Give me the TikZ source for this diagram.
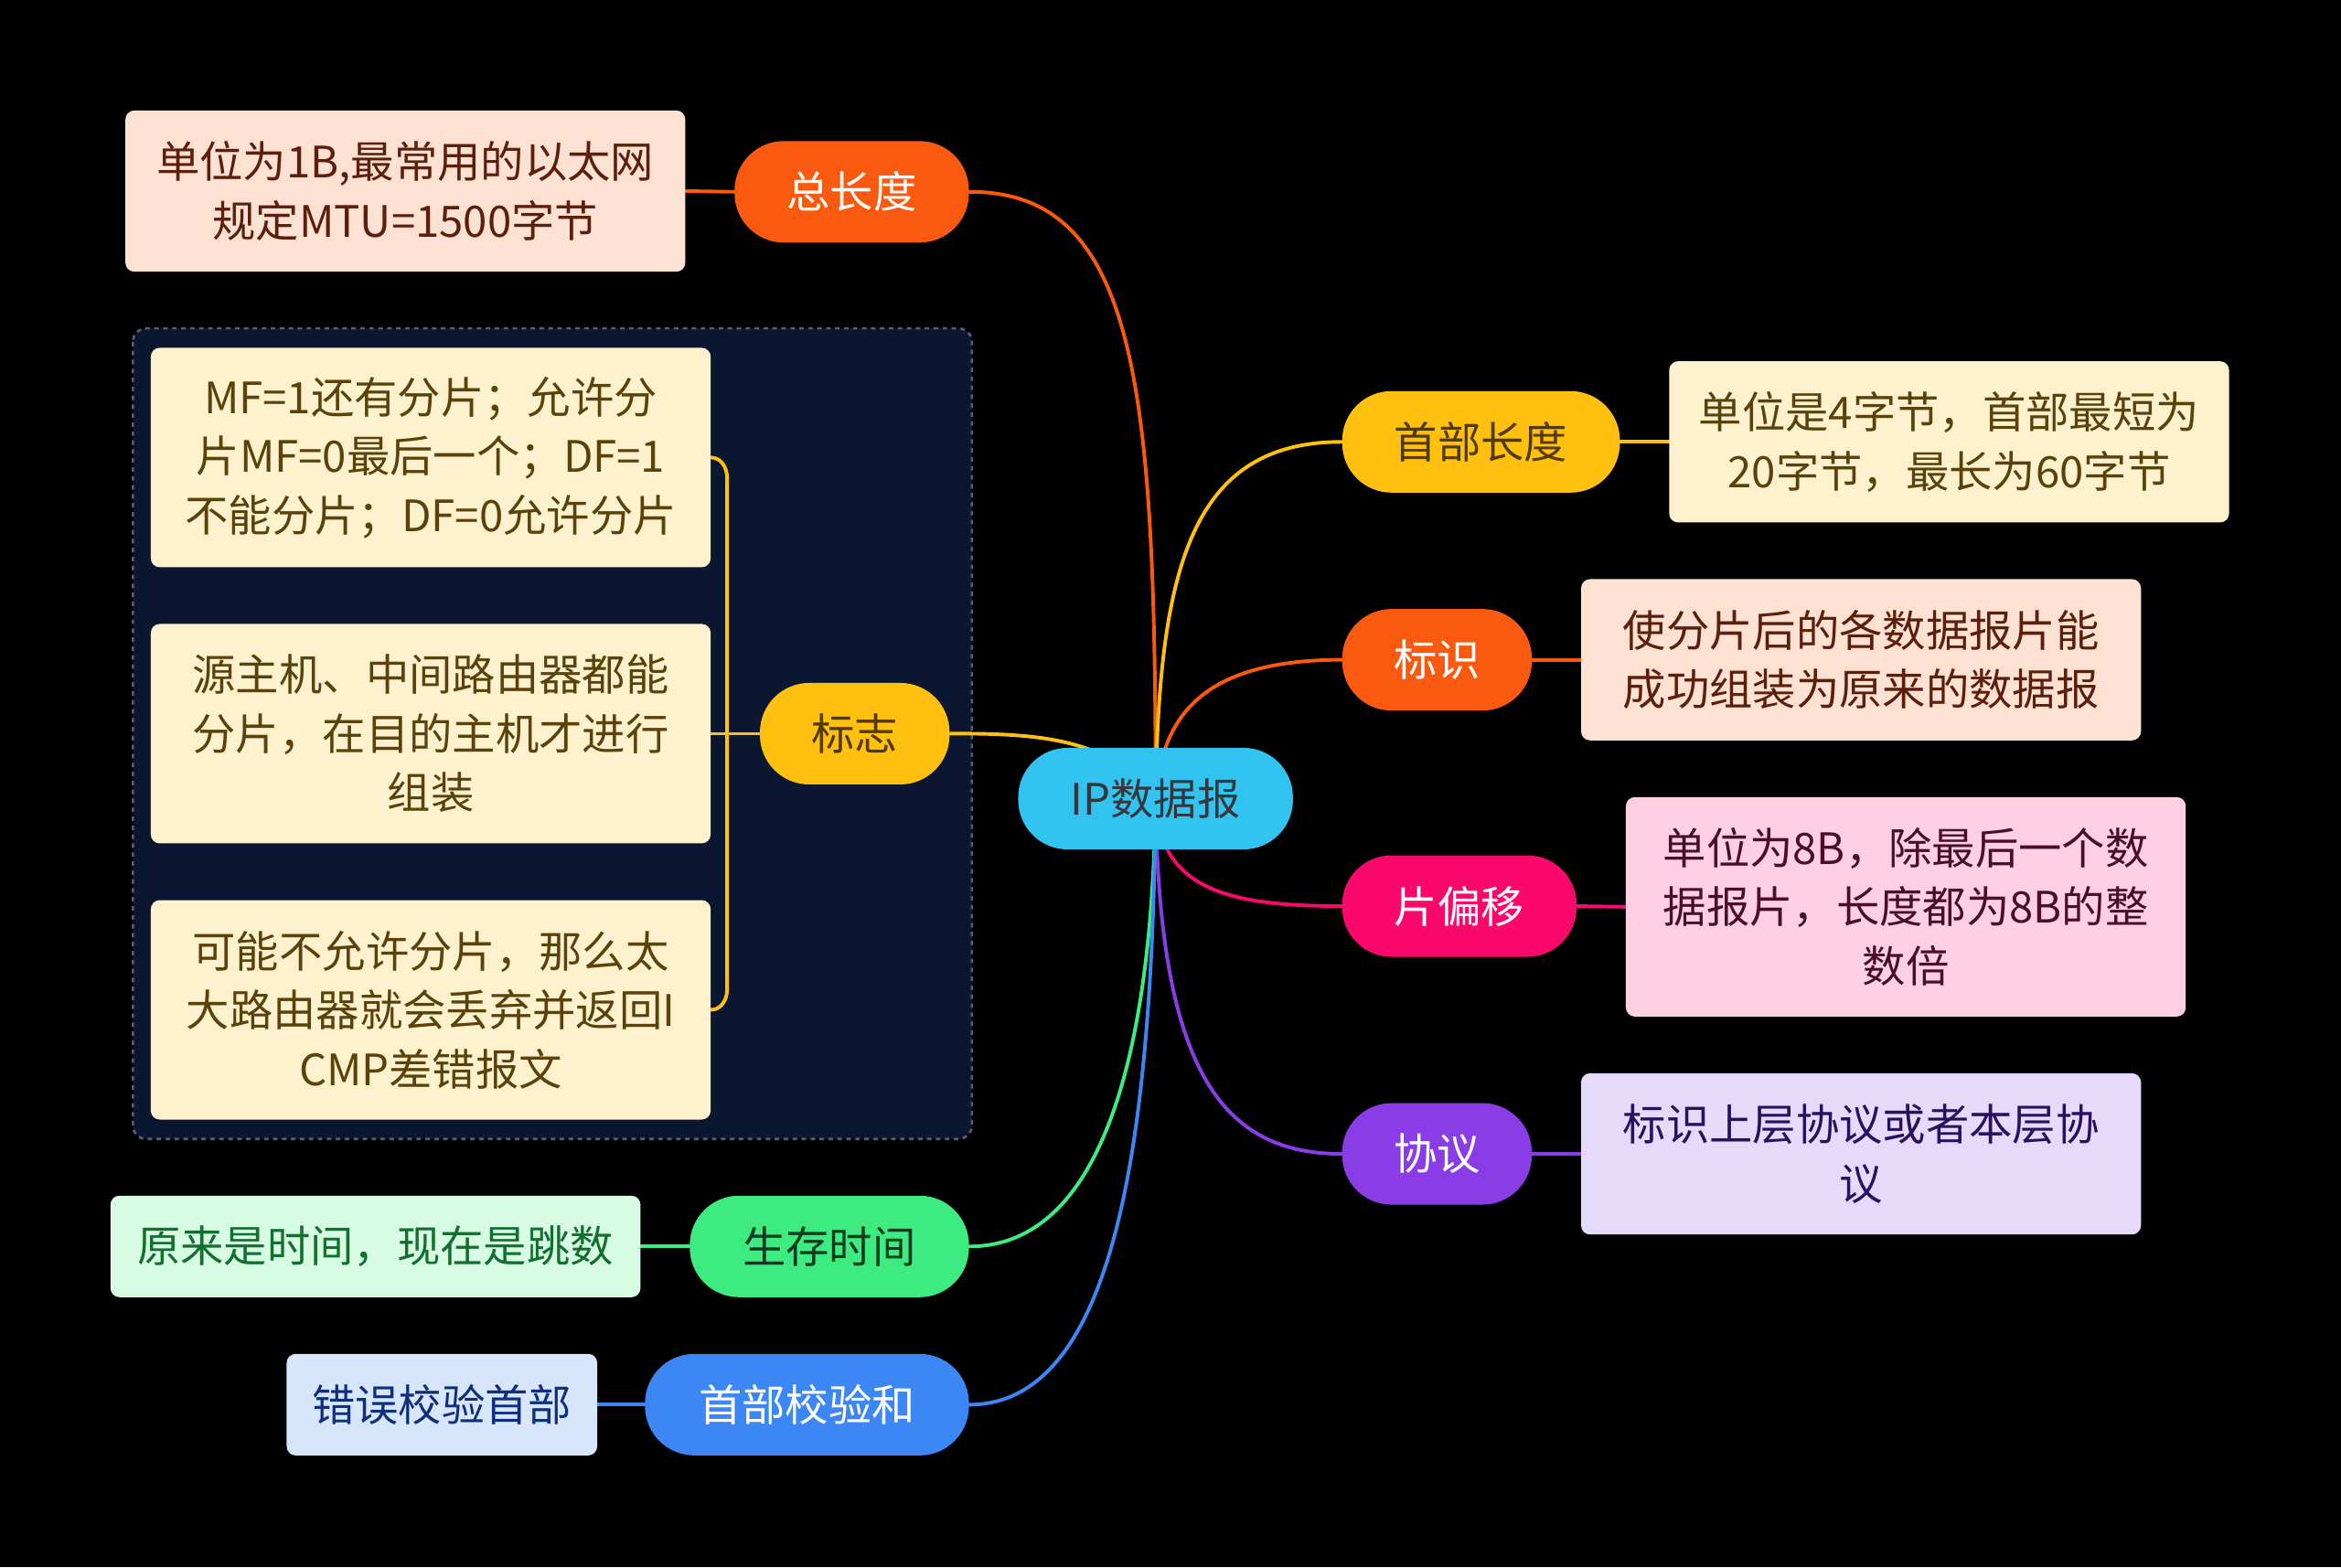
\documentclass[tikz,border=0pt]{standalone}
\usepackage{fontspec}
\setmainfont{Noto Sans CJK SC}
\usetikzlibrary{calc}
\pgfdeclarelayer{back}\pgfdeclarelayer{lines}
\pgfsetlayers{back,lines,main}
\definecolor{corange}{HTML}{FA5A0F}
\definecolor{camber}{HTML}{FFC010}
\definecolor{cpink}{HTML}{F8096B}
\definecolor{cpurple}{HTML}{8A3CE6}
\definecolor{cgreen}{HTML}{3EEB80}
\definecolor{cblue}{HTML}{3C87F3}
\definecolor{ccyan}{HTML}{33C3F0}
\definecolor{bpeach}{HTML}{FDE1D3}
\definecolor{bcream}{HTML}{FEF2CE}
\definecolor{bpink}{HTML}{FED0E2}
\definecolor{blav}{HTML}{E6DAFA}
\definecolor{bmint}{HTML}{D8FBE4}
\definecolor{blblue}{HTML}{D8E6FC}
\definecolor{gfill}{HTML}{0B1730}
\definecolor{gborder}{HTML}{5A606B}
\tikzset{
  txt/.style={font=\fontsize{29}{39.5}\selectfont, align=center, inner sep=0pt},
  topic/.style={txt, rectangle, rounded corners=33pt, minimum height=68pt},
  leaf/.style={txt, rectangle, rounded corners=6pt, minimum width=375pt},
  conn/.style={line width=2.4pt, line cap=round},
}
\begin{document}
\begin{tikzpicture}[x=1pt,y=-1pt]
\useasboundingbox (0,0) rectangle (1568,1050);
\begin{pgfonlayer}{back}
\fill[black] (0,0) rectangle (1568,1050);
\draw[gborder, fill=gfill, dashed, line width=1.6pt, rounded corners=9pt] (89,220) rectangle (651,763);
\end{pgfonlayer}

% root
\node[topic, fill=ccyan, text=black!80!cyan!60!black, minimum width=184pt] (root) at (774,535) {IP数据报};

% topics
\node[topic, fill=corange, text=white, minimum width=157pt] (zcd) at (570.5,128.5) {总长度};
\node[topic, fill=camber, text={rgb,255:red,80;green,58;blue,0}, minimum width=186pt] (sbcd) at (992,296) {首部长度};
\node[topic, fill=corange, text=white, minimum width=127pt] (bs) at (962.5,442) {标识};
\node[topic, fill=cpink, text=white, minimum width=157pt] (ppy) at (977.5,607) {片偏移};
\node[topic, fill=cpurple, text=white, minimum width=127pt] (xy) at (962.5,773) {协议};
\node[topic, fill=camber, text={rgb,255:red,80;green,58;blue,0}, minimum width=127pt] (bz) at (572.5,491.5) {标志};
\node[topic, fill=cgreen, text={rgb,255:red,13;green,59;blue,32}, minimum width=187pt] (sc) at (555.5,835) {生存时间};
\node[topic, fill=cblue, text=white, minimum width=217pt] (jy) at (540.5,941) {首部校验和};

% leaves
\node[leaf, fill=bpeach, text={rgb,255:red,92;green,31;blue,11}, minimum height=108pt] (zcdc) at (271.5,128) {单位为1B,最常用的以太网\\规定MTU=1500字节};
\node[leaf, fill=bcream, text={rgb,255:red,90;green,66;blue,10}, minimum height=108pt] (sbcdc) at (1305.5,296) {单位是4字节，首部最短为\\20字节，最长为60字节};
\node[leaf, fill=bpeach, text={rgb,255:red,92;green,31;blue,11}, minimum height=108pt] (bsc) at (1246.5,442) {使分片后的各数据报片能\\成功组装为原来的数据报};
\node[leaf, fill=bpink, text={rgb,255:red,74;green,15;blue,37}, minimum height=147pt] (ppyc) at (1276.5,607.5) {单位为8B，除最后一个数\\据报片，长度都为8B的整\\数倍};
\node[leaf, fill=blav, text={rgb,255:red,42;green,16;blue,96}, minimum height=108pt] (xyc) at (1246.5,773) {标识上层协议或者本层协\\议};
\node[leaf, fill=bcream, text={rgb,255:red,90;green,66;blue,10}, minimum height=147pt] (c1) at (288.5,306.5) {MF=1还有分片；允许分\\片MF=0最后一个；DF=1\\不能分片；DF=0允许分片};
\node[leaf, fill=bcream, text={rgb,255:red,90;green,66;blue,10}, minimum height=147pt] (c2) at (288.5,491.5) {源主机、中间路由器都能\\分片，在目的主机才进行\\组装};
\node[leaf, fill=bcream, text={rgb,255:red,90;green,66;blue,10}, minimum height=147pt] (c3) at (288.5,676.5) {可能不允许分片，那么太\\大路由器就会丢弃并返回I\\CMP差错报文};
\node[leaf, fill=bmint, text={rgb,255:red,18;green,112;blue,47}, minimum width=355pt, minimum height=68pt] (scc) at (251.5,835) {原来是时间，现在是跳数};
\node[leaf, fill=blblue, text={rgb,255:red,15;green,47;blue,122}, minimum width=208pt, minimum height=68pt] (jyc) at (296,941) {错误校验首部};

\begin{pgfonlayer}{lines}
% root branches
\draw[conn, corange] (zcd.east) .. controls (762,128) and (774,260) .. (root.center);
\draw[conn, camber] (sbcd.west) .. controls (798,296) and (776,380) .. (root.center);
\draw[conn, corange] (bs.west) .. controls (805,442) and (778,480) .. (root.center);
\draw[conn, cpink] (root.center) .. controls (776,595) and (820,607) .. (ppy.west);
\draw[conn, cpurple] (root.center) .. controls (776,720) and (820,773) .. (xy.west);
\draw[conn, camber] (bz.east) .. controls (700,491) and (745,496) .. (root.center);
\draw[conn, cgreen] (sc.east) .. controls (740,835) and (772,700) .. (root.center);
\draw[conn, cblue] (jy.east) .. controls (748,941) and (772,760) .. (root.center);
% leaf links
\draw[conn, corange] (zcd.west) -- (zcdc.east);
\draw[conn, camber] (sbcd.east) -- (sbcdc.west);
\draw[conn, corange] (bs.east) -- (bsc.west);
\draw[conn, cpink] (ppy.east) -- (ppyc.west);
\draw[conn, cpurple] (xy.east) -- (xyc.west);
\draw[conn, cgreen] (sc.west) -- (scc.east);
\draw[conn, cblue] (jy.west) -- (jyc.east);
% bracket for 标志
\draw[conn, camber] (c1.east) to[out=0,in=90] (487,320) -- (487,663) to[out=-90,in=0] (c3.east);
\draw[conn, camber] (c2.east) -- (bz.west);
\end{pgfonlayer}
\end{tikzpicture}
\end{document}
